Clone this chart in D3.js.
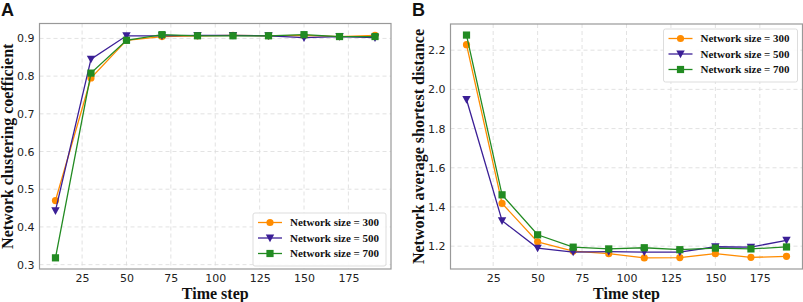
<!DOCTYPE html>
<html>
<head>
<meta charset="utf-8">
<script src="https://cdn.jsdelivr.net/npm/d3@7"></script>
<style>
  body { margin: 0; background: #fff; }
  svg { display: block; }
</style>
</head>
<body>
<div id="vis"></div>
<script>
// datos ---------------------------------------------------------------
const PASOS = [10, 30, 50, 70, 90, 110, 130, 150, 170, 190];
const SERIES = ["Network size = 300", "Network size = 500", "Network size = 700"];

const CLUSTER_300 = [0.470, 0.795, 0.895, 0.905, 0.907, 0.908, 0.907, 0.908, 0.905, 0.908];
const CLUSTER_500 = [0.443, 0.845, 0.907, 0.907, 0.908, 0.908, 0.907, 0.902, 0.905, 0.902];
const CLUSTER_700 = [0.318, 0.808, 0.895, 0.910, 0.907, 0.907, 0.907, 0.910, 0.905, 0.905];

const DIST_300 = [2.228, 1.418, 1.222, 1.175, 1.162, 1.140, 1.142, 1.162, 1.143, 1.148];
const DIST_500 = [1.948, 1.330, 1.190, 1.170, 1.172, 1.170, 1.170, 1.197, 1.195, 1.230];
const DIST_700 = [2.277, 1.462, 1.258, 1.195, 1.186, 1.192, 1.182, 1.190, 1.186, 1.196];

const X_TICKS = [25, 50, 75, 100, 125, 150, 175];
const Y_TICKS_A = [0.3, 0.4, 0.5, 0.6, 0.7, 0.8, 0.9];
const Y_TICKS_B = [1.2, 1.4, 1.6, 1.8, 2.0, 2.2];

const COLORES = ["#ff8c00", "#3b1f96", "#228b22"];
const MARCADORES = ["circle", "triangle", "square"];

const WIDTH = 803;
const HEIGHT = 302;
const SVG = d3.select("#vis").append("svg").attr("width", WIDTH).attr("height", HEIGHT);

const SERIF = "'Liberation Serif', 'Times New Roman', serif";
const SANS = "'DejaVu Sans', sans-serif";

function marcador(g, tipo, color) {
    if (tipo === "circle") {
        g.append("circle").attr("r", 3.6).attr("fill", color);
    } else if (tipo === "square") {
        g.append("rect").attr("x", -3.6).attr("y", -3.6).attr("width", 7.2).attr("height", 7.2).attr("fill", color);
    } else {
        g.append("path").attr("d", "M-4.2,-3.5L4.2,-3.5L0,4.2Z").attr("fill", color);
    }
}

function panel(opts) {
    const { left, right, top, bottom, yDomain, yTicks, datos, letra, letraX, yLabel, yLabelX, legend } = opts;

    const x = d3.scaleLinear().domain([1, 199]).range([left, right]);
    const y = d3.scaleLinear().domain(yDomain).range([bottom, top]);

    const g = SVG.append("g");

    // grilla
    g.selectAll(".gx").data(X_TICKS).enter().append("line")
        .attr("x1", d => x(d)).attr("x2", d => x(d))
        .attr("y1", top).attr("y2", bottom)
        .attr("stroke", "#dadada").attr("stroke-width", 0.8).attr("stroke-dasharray", "4,3");
    g.selectAll(".gy").data(yTicks).enter().append("line")
        .attr("x1", left).attr("x2", right)
        .attr("y1", d => y(d)).attr("y2", d => y(d))
        .attr("stroke", "#dadada").attr("stroke-width", 0.8).attr("stroke-dasharray", "4,3");

    // ejes
    const ejeX = g.append("g").attr("transform", `translate(0,${bottom})`)
        .call(d3.axisBottom(x).tickValues(X_TICKS).tickSize(0).tickPadding(5));
    const ejeY = g.append("g").attr("transform", `translate(${left},0)`)
        .call(d3.axisLeft(y).tickValues(yTicks).tickFormat(d3.format(".1f")).tickSize(0).tickPadding(5));
    [ejeX, ejeY].forEach(e => {
        e.select(".domain").remove();
        e.selectAll("text").attr("font-family", SANS).attr("font-size", "11px").attr("fill", "#222");
    });

    g.append("rect")
        .attr("x", left).attr("y", top)
        .attr("width", right - left).attr("height", bottom - top)
        .attr("fill", "none").attr("stroke", "#999").attr("stroke-width", 1.2);

    // series
    const linea = d3.line().x((d, i) => x(PASOS[i])).y(d => y(d));
    datos.forEach((serie, k) => {
        g.append("path").datum(serie)
            .attr("d", linea)
            .attr("fill", "none")
            .attr("stroke", COLORES[k])
            .attr("stroke-width", 1.3);
        serie.forEach((v, i) => {
            const m = g.append("g").attr("transform", `translate(${x(PASOS[i])},${y(v)})`);
            marcador(m, MARCADORES[k], COLORES[k]);
        });
    });

    // leyenda
    const ley = g.append("g").attr("transform", `translate(${legend.x},${legend.y})`);
    ley.append("rect")
        .attr("x", 0).attr("y", 0).attr("width", legend.w).attr("height", 53)
        .attr("rx", 2)
        .attr("fill", "white").attr("fill-opacity", 0.9)
        .attr("stroke", "#ddd").attr("stroke-width", 1);
    SERIES.forEach((s, k) => {
        const fila = ley.append("g").attr("transform", `translate(0,${9.5 + k * 15.5})`);
        fila.append("line").attr("x1", 5).attr("x2", 29).attr("y1", 0).attr("y2", 0)
            .attr("stroke", COLORES[k]).attr("stroke-width", 1.3);
        const m = fila.append("g").attr("transform", "translate(17,0)");
        marcador(m, MARCADORES[k], COLORES[k]);
        fila.append("text")
            .attr("x", 37).attr("y", 0).attr("dy", "0.35em")
            .attr("font-family", SERIF).attr("font-weight", "bold").attr("font-size", "11px")
            .attr("fill", "#111")
            .text(s);
    });

    // etiquetas
    g.append("text")
        .attr("x", (left + right) / 2).attr("y", 298.5)
        .attr("text-anchor", "middle")
        .attr("font-family", SERIF).attr("font-weight", "bold").attr("font-size", "16px")
        .attr("fill", "#111")
        .text("Time step");
    g.append("text")
        .attr("transform", `translate(${yLabelX},${(top + bottom) / 2}) rotate(-90)`)
        .attr("text-anchor", "middle")
        .attr("font-family", SERIF).attr("font-weight", "bold").attr("font-size", "16px")
        .attr("fill", "#111")
        .text(yLabel);
    g.append("text")
        .attr("x", letraX).attr("y", 15.5)
        .attr("font-family", "'Liberation Sans', Arial, sans-serif").attr("font-weight", "bold").attr("font-size", "18px")
        .attr("fill", "#111")
        .text(letra);
}

panel({
    left: 39.5, right: 391, top: 23.5, bottom: 269,
    yDomain: [0.2884, 0.9396], yTicks: Y_TICKS_A,
    datos: [CLUSTER_300, CLUSTER_500, CLUSTER_700],
    letra: "A", letraX: 1, yLabel: "Network clustering coefficient", yLabelX: 13,
    legend: { x: 253, y: 213, w: 133 }
});

panel({
    left: 450.5, right: 802.5, top: 24, bottom: 269,
    yDomain: [1.0835, 2.3335], yTicks: Y_TICKS_B,
    datos: [DIST_300, DIST_500, DIST_700],
    letra: "B", letraX: 412, yLabel: "Network average shortest distance", yLabelX: 424,
    legend: { x: 663.5, y: 29, w: 134 }
});
</script>
</body>
</html>
